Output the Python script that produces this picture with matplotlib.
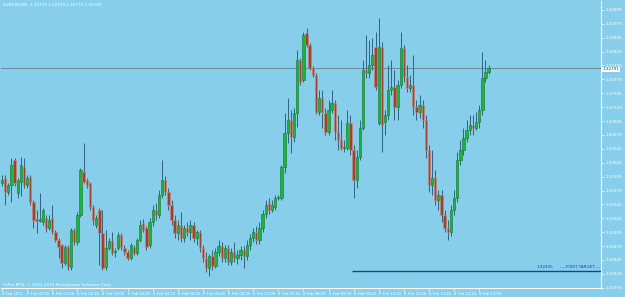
import numpy as np
import matplotlib
matplotlib.use('Agg')
import matplotlib.pyplot as plt

# EURUSD M5, 8 Feb 2012 00:20 .. 13:15, prices in points (1 point = 0.00001)
opens = [132584, 132593, 132567, 132580, 132625, 132566, 132585, 132612, 132580, 132594,
         132549, 132519, 132515, 132513, 132521, 132503, 132521, 132495, 132481, 132472,
         132440, 132468, 132432, 132499, 132477, 132526, 132603, 132589, 132584, 132540,
         132508, 132535, 132494, 132432, 132467, 132479, 132459, 132467, 132490, 132467,
         132459, 132449, 132468, 132458, 132481, 132512, 132503, 132472, 132513, 132535,
         132526, 132562, 132589, 132567, 132544, 132517, 132494, 132508, 132485, 132503,
         132495, 132508, 132485, 132495, 132467, 132449, 132431, 132452, 132434, 132459,
         132470, 132449, 132467, 132441, 132459, 132449, 132454, 132463, 132452, 132472,
         132485, 132495, 132481, 132503, 132528, 132548, 132535, 132540, 132557, 132557,
         132612, 132674, 132697, 132666, 132710, 132805, 132769, 132854, 132832, 132791,
         132778, 132711, 132737, 132710, 132675, 132715, 132728, 132675, 132661, 132647,
         132647, 132692, 132643, 132589, 132630, 132683, 132787, 132782, 132796, 132828,
         132692, 132828, 132693, 132706, 132751, 132756, 132720, 132760, 132827, 132774,
         132755, 132760, 132720, 132711, 132724, 132697, 132643, 132580, 132593, 132553,
         132562, 132526, 132503, 132495, 132535, 132557, 132625, 132643, 132665, 132679,
         132688, 132683, 132693, 132715, 132773, 132783]
closes = [132589, 132567, 132580, 132616, 132584, 132589, 132616, 132580, 132593, 132549,
          132517, 132515, 132519, 132535, 132503, 132517, 132495, 132481, 132468, 132440,
          132468, 132432, 132499, 132477, 132526, 132607, 132585, 132580, 132540, 132517,
          132521, 132494, 132431, 132467, 132479, 132458, 132461, 132490, 132468, 132459,
          132449, 132472, 132458, 132481, 132508, 132499, 132468, 132513, 132535, 132526,
          132562, 132589, 132567, 132544, 132517, 132494, 132508, 132485, 132503, 132495,
          132508, 132485, 132495, 132467, 132449, 132431, 132452, 132434, 132459, 132470,
          132449, 132467, 132441, 132459, 132449, 132454, 132463, 132452, 132472, 132485,
          132495, 132481, 132503, 132528, 132544, 132535, 132544, 132557, 132558, 132612,
          132674, 132697, 132666, 132710, 132805, 132765, 132850, 132832, 132791, 132778,
          132711, 132737, 132711, 132675, 132715, 132728, 132675, 132661, 132647, 132648,
          132692, 132643, 132589, 132630, 132683, 132787, 132782, 132796, 132814, 132756,
          132828, 132688, 132706, 132751, 132756, 132720, 132760, 132827, 132774, 132755,
          132760, 132720, 132711, 132724, 132697, 132643, 132580, 132593, 132553, 132562,
          132526, 132503, 132495, 132535, 132557, 132625, 132643, 132665, 132679, 132688,
          132683, 132693, 132715, 132773, 132783, 132791]
highs = [132598, 132598, 132584, 132629, 132629, 132593, 132630, 132629, 132598, 132598,
         132553, 132535, 132566, 132539, 132526, 132526, 132544, 132499, 132485, 132474,
         132472, 132472, 132503, 132503, 132531, 132610, 132656, 132593, 132585, 132544,
         132526, 132539, 132535, 132499, 132485, 132495, 132467, 132495, 132494, 132472,
         132463, 132476, 132472, 132485, 132517, 132519, 132506, 132521, 132544, 132548,
         132571, 132625, 132596, 132575, 132553, 132526, 132517, 132531, 132508, 132513,
         132517, 132513, 132499, 132499, 132472, 132459, 132456, 132463, 132467, 132481,
         132477, 132472, 132472, 132467, 132477, 132463, 132470, 132470, 132481, 132492,
         132503, 132506, 132513, 132535, 132553, 132557, 132553, 132562, 132562, 132616,
         132710, 132737, 132715, 132719, 132823, 132809, 132855, 132863, 132836, 132794,
         132782, 132751, 132751, 132719, 132733, 132751, 132733, 132706, 132697, 132661,
         132715, 132706, 132652, 132643, 132697, 132805, 132850, 132841, 132845, 132855,
         132881, 132837, 132715, 132796, 132805, 132787, 132769, 132855, 132832, 132796,
         132778, 132814, 132733, 132742, 132733, 132706, 132652, 132643, 132607, 132571,
         132571, 132535, 132517, 132544, 132571, 132639, 132661, 132683, 132697, 132706,
         132706, 132711, 132724, 132819, 132805, 132796]
lows = [132578, 132544, 132562, 132549, 132578, 132557, 132560, 132575, 132575, 132544,
        132503, 132494, 132513, 132508, 132495, 132499, 132492, 132477, 132449, 132431,
        132436, 132427, 132427, 132472, 132472, 132522, 132584, 132575, 132535, 132508,
        132503, 132436, 132427, 132427, 132463, 132454, 132450, 132463, 132463, 132454,
        132445, 132445, 132454, 132454, 132477, 132495, 132463, 132467, 132506, 132517,
        132521, 132557, 132562, 132535, 132508, 132485, 132481, 132477, 132477, 132488,
        132481, 132477, 132472, 132459, 132441, 132423, 132416, 132427, 132431, 132452,
        132441, 132441, 132436, 132436, 132441, 132438, 132445, 132431, 132445, 132463,
        132477, 132474, 132474, 132495, 132521, 132528, 132531, 132535, 132553, 132553,
        132602, 132656, 132638, 132657, 132684, 132760, 132765, 132828, 132787, 132774,
        132708, 132706, 132683, 132670, 132670, 132710, 132661, 132643, 132643, 132639,
        132643, 132634, 132557, 132575, 132625, 132679, 132773, 132773, 132787, 132751,
        132688, 132639, 132670, 132697, 132742, 132697, 132697, 132755, 132765, 132747,
        132747, 132706, 132697, 132701, 132683, 132629, 132567, 132562, 132544, 132535,
        132513, 132495, 132481, 132488, 132526, 132549, 132616, 132634, 132657, 132670,
        132670, 132679, 132683, 132706, 132765, 132780]

yticks = [1.32395 + 0.00025 * k for k in range(21)]
xtick_labels = ['8 Feb 2012', '8 Feb 01:00', '8 Feb 01:40', '8 Feb 02:20', '8 Feb 03:00',
                '8 Feb 03:40', '8 Feb 04:20', '8 Feb 05:00', '8 Feb 05:40', '8 Feb 06:20',
                '8 Feb 07:00', '8 Feb 07:40', '8 Feb 08:20', '8 Feb 09:00', '8 Feb 09:40',
                '8 Feb 10:20', '8 Feb 11:00', '8 Feb 11:40', '8 Feb 12:20', '8 Feb 13:00']
bid = 1.32791
target = 1.32425
header = 'EURUSD,M5  1.32775 1.32790 1.32775 1.32790'

o = np.array(opens) / 1e5
c = np.array(closes) / 1e5
h = np.array(highs) / 1e5
l = np.array(lows) / 1e5
x = np.arange(len(o))

bg = '#87CEEB'
ylo, yhi = 1.323946, 1.32911
fig = plt.figure(figsize=(6.25, 2.97), dpi=100)
fig.patch.set_facecolor(bg)
ax = fig.add_axes([1/625, 9/297, 600/625, 287/297])
ax.set_facecolor(bg)

ax.vlines(x, l, h, color='#2f6482', lw=0.7, zorder=2)
up = c >= o
ax.bar(x[up], (c - o)[up], bottom=o[up], width=0.75, color='#1fb33c',
       edgecolor='#10782a', lw=0.4, zorder=3)
ax.bar(x[~up], (o - c)[~up], bottom=c[~up], width=0.75, color='#a3402a',
       edgecolor='#c98a7c', lw=0.4, zorder=3)

ax.axhline(bid, color='#6f8fa0', lw=0.8, zorder=1)
ax.hlines(target, 111.5, 190.8, color='#1c3f9e', lw=1.0, zorder=4)
ax.text(175.5, target + 0.00003, '1.32425', color='#1c3f9e', fontsize=3.0,
        ha='right', va='bottom')
ax.text(190.7, target + 0.00003, '----FIRST TARGET----', color='#1c3f9e', fontsize=3.0,
        ha='right', va='bottom')

ax.set_xlim(-0.32, 190.8)
ax.set_ylim(ylo, yhi)

ax.yaxis.tick_right()
ax.set_yticks(yticks)
ax.set_yticklabels(['%.5f' % v for v in yticks])
ax.set_xticks(np.arange(0, 8 * len(xtick_labels), 8))
ax.set_xticklabels(xtick_labels, ha='left')
ax.tick_params(axis='both', colors='white', labelsize=3.0, length=2, width=0.5, pad=1)
ax.tick_params(axis='x', labelsize=2.7)
for s in ['left', 'top']:
    ax.spines[s].set_visible(False)
for s in ['right', 'bottom']:
    ax.spines[s].set_color('white')
    ax.spines[s].set_linewidth(0.8)

# current price box on the price scale, drawn over the nearby tick label
ax.text(1.003, (bid - ylo) / (yhi - ylo) - 0.005, '%.5f' % bid,
        transform=ax.transAxes, fontsize=3.0, color='#333333', va='center', ha='left',
        bbox=dict(boxstyle='square,pad=0.1', fc='white', ec='none'), clip_on=False,
        zorder=10)

fig.text(3/625, 1 - 5/297, header, color='white', fontsize=3.0, va='center', ha='left')
fig.text(3/625, 1 - 285/297, 'FxPro MT4, \u00a9 2001-2010 MetaQuotes Software Corp.',
         color='white', fontsize=3.0, va='center', ha='left')

fig.savefig('out.png', dpi=100, facecolor=bg)
